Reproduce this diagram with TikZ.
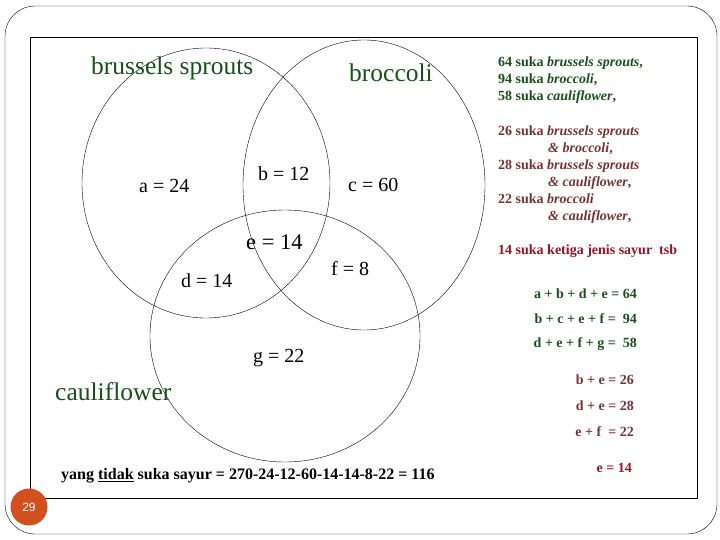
\documentclass[tikz,border=0pt]{standalone}
\usepackage{fontspec}
\setmainfont{Liberation Serif}
\setsansfont{Liberation Sans}
\definecolor{gr}{RGB}{25,80,25}
\definecolor{br}{RGB}{120,50,50}
\definecolor{rd}{RGB}{150,20,35}
\definecolor{badge}{RGB}{210,80,30}
\begin{document}
\begin{tikzpicture}[x=1pt,y=-1pt,
  lbl/.style={inner sep=0pt,anchor=west,font=\fontsize{20}{22}\selectfont},
  big/.style={inner sep=0pt,anchor=west,font=\fontsize{25.5}{28}\selectfont},
  side/.style={inner sep=0pt,anchor=west,font=\fontsize{14}{17}\selectfont\bfseries,align=left},
  eq/.style={inner sep=0pt,anchor=east,font=\fontsize{14}{16}\selectfont\bfseries}]
\useasboundingbox (0,0) rectangle (720,540);
\draw[rounded corners=30pt] (5,6) rectangle (717,534);
\draw[line width=0.8pt] (30,37) rectangle (697,498);
\draw (206,183) ellipse [x radius=124,y radius=135];
\draw (364,185) ellipse [x radius=121,y radius=145];
\draw (285,336) ellipse [x radius=135,y radius=126];
\node[big,text=gr] (bs) at (91,68) {brussels sprouts};
\node[big,text=gr] (bc) at (349,73) {broccoli};
\node[big,text=gr] (cf) at (55,392) {cauliflower};
\node[lbl] (a) at (139,186) {a = 24};
\node[lbl] (b) at (258,174) {b = 12};
\node[lbl] (c) at (348,185) {c = 60};
\node[lbl,font=\fontsize{22.5}{24}\selectfont] (e) at (246,242) {e = 14};
\node[lbl] (f) at (331,269) {f = 8};
\node[lbl] (d) at (181,281) {d = 14};
\node[lbl] (g) at (253,358) {g = 22};
\node[inner sep=0pt,anchor=west,font=\fontsize{16}{18}\selectfont\bfseries] (t) at (61,476) {yang \underline{tidak} suka sayur = 270-24-12-60-14-14-8-22 = 116};
\node[side,text=gr] (s1) at (498,80) {64 suka \textit{brussels sprouts},\\94 suka \textit{broccoli},\\58 suka \textit{cauliflower},};
\node[side,text=br] (s2) at (498,175) {26 suka \textit{brussels sprouts}\\\hspace{50pt}\textit{\& broccoli},\\28 suka \textit{brussels sprouts}\\\hspace{50pt}\textit{\& cauliflower},\\22 suka \textit{broccoli}\\\hspace{50pt}\textit{\& cauliflower},};
\node[side,text=rd] (s3) at (498,251) {14 suka ketiga jenis sayur\ \ tsb};
\node[eq,text=gr] (e1) at (637,294) {a + b + d + e = 64};
\node[eq,text=gr] (e2) at (637,319) {b + c + e + f =\ \ 94};
\node[eq,text=gr] (e3) at (637,344) {d + e + f + g =\ \ 58};
\node[eq,text=br] (e4) at (634,380) {b + e = 26};
\node[eq,text=br] (e5) at (634,406) {d + e = 28};
\node[eq,text=br] (e6) at (634,432) {e + f\ \ = 22};
\node[eq,text=rd] (e7) at (632,468) {e = 14};
\node[circle,fill=badge,minimum size=37pt,inner sep=0pt,text=white,font=\sffamily\fontsize{12}{12}\selectfont] (n) at (29,507) {29};
\end{tikzpicture}
\end{document}
